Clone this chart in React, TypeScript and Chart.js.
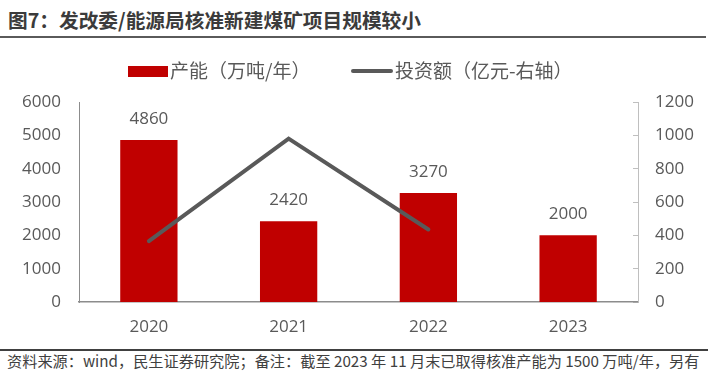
import React, { useEffect, useRef } from 'react';
import { Chart, registerables } from 'chart.js';

Chart.register(...registerables);

const titleText = '图7：发改委/能源局核准新建煤矿项目规模较小';
const footerText = '资料来源：wind，民生证券研究院；备注：截至 2023 年 11 月末已取得核准产能为 1500 万吨/年，另有';

const categories = ['2020', '2021', '2022', '2023'];
const capacity = [4860, 2420, 3270, 2000];
const investment: (number | null)[] = [365, 980, 435, null];
const capacityLabel = '产能（万吨/年）';
const investmentLabel = '投资额（亿元-右轴）';
const leftTicks = [0, 1000, 2000, 3000, 4000, 5000, 6000];
const rightTicks = [0, 200, 400, 600, 800, 1000, 1200];

const BAR = '#C00000';
const LINE = '#595959';
const TEXT = '#595959';
const NUM_FONT = '"Open Sans", "Liberation Sans", sans-serif';
const CJK_FONT = '"Noto Sans CJK SC", "Noto Sans", sans-serif';

const legendPlugin = {
  id: 'customLegend',
  afterDraw(chart: any) {
    const ctx = chart.ctx;
    const ds = chart.data.datasets;
    ctx.save();
    ctx.font = `19px ${CJK_FONT}`;
    ctx.textBaseline = 'middle';
    ctx.textAlign = 'left';
    ctx.fillStyle = BAR;
    ctx.fillRect(128, 26, 40, 11);
    ctx.fillStyle = TEXT;
    ctx.fillText(ds[0].label, 170, 31);
    ctx.strokeStyle = LINE;
    ctx.lineWidth = 4;
    ctx.lineCap = 'round';
    ctx.beginPath();
    ctx.moveTo(353, 31);
    ctx.lineTo(391, 31);
    ctx.stroke();
    ctx.fillText(ds[1].label, 395, 31);
    ctx.restore();
  },
};

const barLabelPlugin = {
  id: 'barLabels',
  afterDatasetsDraw(chart: any) {
    const ctx = chart.ctx;
    const meta = chart.getDatasetMeta(0);
    const data = chart.data.datasets[0].data;
    ctx.save();
    ctx.font = `17px ${NUM_FONT}`;
    ctx.fillStyle = TEXT;
    ctx.textAlign = 'center';
    ctx.textBaseline = 'middle';
    meta.data.forEach((el: any, i: number) => {
      ctx.fillText(String(data[i]), el.x, el.y - 21);
    });
    ctx.restore();
  },
};

const plainLabel = (v: any) => String(v);

export default function App() {
  const ref = useRef<HTMLCanvasElement | null>(null);

  useEffect(() => {
    if (!ref.current) return;
    const chart = new Chart(ref.current, {
      type: 'bar',
      data: {
        labels: categories,
        datasets: [
          {
            type: 'bar',
            label: capacityLabel,
            data: capacity,
            backgroundColor: BAR,
            borderWidth: 0,
            barPercentage: 0.41,
            categoryPercentage: 1,
            yAxisID: 'y',
            order: 1,
          } as any,
          {
            type: 'line',
            label: investmentLabel,
            data: investment,
            borderColor: LINE,
            backgroundColor: LINE,
            borderWidth: 4,
            pointRadius: 0,
            borderCapStyle: 'round',
            tension: 0,
            spanGaps: false,
            yAxisID: 'y1',
            order: 0,
          } as any,
        ],
      },
      options: {
        animation: false,
        responsive: false,
        devicePixelRatio: 1,
        layout: { padding: { top: 62, left: 0, right: 0, bottom: 0 } },
        plugins: {
          legend: { display: false },
          tooltip: { enabled: false },
          title: { display: false },
        },
        scales: {
          x: {
            grid: { display: false, drawTicks: false },
            border: { display: true, color: '#8c8c8c', width: 1.5 },
            ticks: {
              color: TEXT,
              font: { family: NUM_FONT, size: 17 },
              padding: 15,
              maxRotation: 0,
            },
            afterFit(scale: any) {
              scale.height = 43;
            },
          },
          y: {
            position: 'left',
            min: 0,
            max: 6000,
            grid: { display: false, drawTicks: false },
            border: { display: true, color: '#8c8c8c', width: 1 },
            ticks: {
              color: TEXT,
              font: { family: NUM_FONT, size: 17 },
              padding: 18,
              callback: plainLabel,
            },
            afterBuildTicks(scale: any) {
              scale.ticks = leftTicks.map((v) => ({ value: v }));
            },
            afterFit(scale: any) {
              scale.width = 79;
            },
          },
          y1: {
            position: 'right',
            min: 0,
            max: 1200,
            grid: {
              display: true,
              drawOnChartArea: false,
              drawTicks: true,
              tickLength: -5,
              color: '#bfbfbf',
            },
            border: { display: true, color: '#bfbfbf', width: 1 },
            ticks: {
              color: TEXT,
              font: { family: NUM_FONT, size: 17 },
              padding: 22,
              callback: plainLabel,
            },
            afterBuildTicks(scale: any) {
              scale.ticks = rightTicks.map((v) => ({ value: v }));
            },
            afterFit(scale: any) {
              scale.width = 70;
            },
          },
        },
      } as any,
      plugins: [legendPlugin, barLabelPlugin],
    });
    return () => chart.destroy();
  }, []);

  return (
    <div
      style={{
        position: 'fixed',
        left: 0,
        top: 0,
        width: 708,
        height: 383,
        background: '#ffffff',
        overflow: 'hidden',
      }}
    >
      <div
        style={{
          position: 'absolute',
          left: 8,
          top: 8,
          fontFamily: CJK_FONT,
          fontWeight: 700,
          fontSize: 19.7,
          lineHeight: '24px',
          color: '#3b3b3b',
          whiteSpace: 'nowrap',
        }}
      >
        {titleText}
      </div>
      <div
        style={{
          position: 'absolute',
          left: 0,
          top: 36,
          width: 706,
          height: 2,
          background: '#5a5a5a',
        }}
      />
      <canvas
        ref={ref}
        width={708}
        height={305}
        style={{ position: 'absolute', left: 0, top: 40, width: 708, height: 305 }}
      />
      <div
        style={{
          position: 'absolute',
          left: 0,
          top: 349,
          width: 708,
          height: 2,
          background: '#404040',
        }}
      />
      <div
        style={{
          position: 'absolute',
          left: 7,
          top: 350,
          fontFamily: CJK_FONT,
          fontSize: 15.2,
          lineHeight: '20px',
          color: '#404040',
          whiteSpace: 'nowrap',
        }}
      >
        {footerText}
      </div>
    </div>
  );
}
